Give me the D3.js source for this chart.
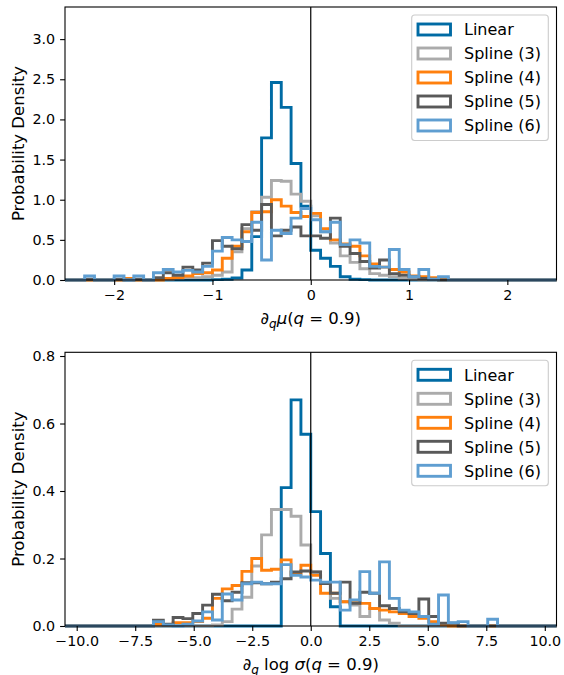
<!DOCTYPE html>
<html><head><meta charset="utf-8">
<script src="https://cdn.jsdelivr.net/npm/d3@7"></script>
<style>
body{margin:0;background:#fff}
svg{display:block}
text{font-family:"DejaVu Sans",sans-serif;fill:#000}
</style>
</head><body>
<svg id="chart" width="564" height="675"></svg>
<script>
// ---------------- data ----------------
const seriesNames = ["Linear", "Spline (3)", "Spline (4)", "Spline (5)", "Spline (6)"];
const seriesColors = ["#006BA4", "#ABABAB", "#FF800E", "#595959", "#5F9ED1"];

// Top panel: d_q mu(q=0.9); 50 bins spanning muRange
const muRange = [-2.5, 2.5];
const muLinear = [0,0,0,0,0, 0,0,0,0,0, 0,0,0,0,0, 0.005,0.01,0.025,0.125,0.54, 1.77,2.46,2.15,1.45,0.92, 0.37,0.27,0.17,0.04,0.01, 0.005,0,0,0,0, 0,0,0,0,0, 0,0,0,0,0, 0,0,0,0,0];
const muSpline3 = [0,0,0,0,0, 0,0,0,0,0, 0.01,0.02,0.03,0.03,0.04, 0.06,0.1,0.35,0.64,0.85, 1.03,1.24,1.23,1.07,0.98, 0.8,0.6,0.46,0.3,0.22, 0.14,0.08,0.06,0.04,0.02, 0.01,0,0,0,0, 0,0,0,0,0, 0,0,0,0,0];
const muSpline4 = [0,0,0,0,0, 0,0.02,0,0,0, 0.02,0.03,0.05,0.08,0.09, 0.125,0.27,0.42,0.6,0.84, 0.85,1.0,0.92,0.84,0.79, 0.83,0.64,0.5,0.45,0.42, 0.3,0.2,0.16,0.13,0.1, 0.05,0.04,0.03,0.02,0, 0,0,0,0,0, 0,0,0,0,0];
const muSpline5 = [0,0,0.01,0,0, 0.01,0,0.01,0,0.03, 0.09,0.06,0.16,0.125,0.21, 0.49,0.42,0.39,0.69,0.62, 0.94,0.55,0.62,0.66,0.55, 0.55,0.52,0.77,0.42,0.33, 0.23,0.15,0.25,0.08,0.06, 0.04,0.02,0.01,0,0, 0,0,0,0,0, 0,0,0,0,0];
const muSpline6 = [0,0,0.05,0,0, 0.05,0,0.05,0,0.09, 0.13,0.1,0.12,0.1,0.17, 0.36,0.53,0.5,0.48,0.72, 0.25,0.62,0.58,0.77,0.89, 0.75,0.6,0.72,0.44,0.5, 0.46,0.17,0.16,0.38,0.13, 0.04,0.13,0.01,0.04,0, 0,0,0,0,0, 0,0,0,0,0];
const muTicksX = [-2, -1, 0, 1, 2];
const muTicksY = [0, 0.5, 1.0, 1.5, 2.0, 2.5, 3.0];
const muYMax = 3.4;

// Bottom panel: d_q log sigma(q=0.9); 50 bins spanning sigRange
const sigRange = [-10.5, 10.5];
const sigLinear = [0,0,0,0,0, 0,0,0,0,0, 0,0,0,0,0, 0,0,0,0,0, 0,0,0.41,0.67,0.568, 0.339,0.215,0.057,0,0, 0,0,0,0,0, 0,0,0,0,0, 0,0,0,0,0, 0,0,0,0,0];
const sigSpline3 = [0,0,0,0,0, 0,0,0,0,0, 0,0,0,0,0, 0.003,0.013,0.05,0.085,0.178, 0.27,0.345,0.345,0.325,0.24, 0.16,0.126,0.082,0.072,0.062, 0.028,0.052,0.018,0.008,0, 0,0,0,0,0, 0,0,0,0,0, 0,0,0,0,0];
const sigSpline4 = [0,0,0,0,0, 0,0,0,0,0.005, 0.003,0.01,0.01,0.013,0.023, 0.082,0.11,0.12,0.162,0.2, 0.165,0.168,0.196,0.153,0.18, 0.15,0.097,0.097,0.072,0.07, 0.067,0.052,0.047,0.042,0.037, 0.028,0.023,0.013,0.005,0, 0,0,0,0,0, 0,0,0,0,0];
const sigSpline5 = [0,0,0,0,0, 0,0,0,0,0.017, 0.005,0.025,0.022,0.037,0.062, 0.094,0.075,0.1,0.128,0.128, 0.125,0.13,0.14,0.16,0.163, 0.16,0.126,0.097,0.13,0.067, 0.1,0.097,0.06,0.052,0.042, 0.037,0.08,0.028,0.008,0.008, 0,0,0,0,0, 0,0,0,0,0];
const sigSpline6 = [0,0,0,0,0, 0,0,0,0,0.013, 0.003,0,0.005,0.015,0.042, 0.018,0.095,0.077,0.125,0.13, 0.125,0.125,0.182,0.15,0.145, 0.136,0.13,0.13,0.047,0.077, 0.161,0.097,0.19,0.082,0.047, 0.042,0.028,0.005,0.092,0.01, 0.013,0,0,0.02,0, 0,0,0,0,0];
const sigTicksX = [-10, -7.5, -5, -2.5, 0, 2.5, 5, 7.5, 10];
const sigTicksY = [0, 0.2, 0.4, 0.6, 0.8];
const sigYMax = 0.811;

// ---------------- drawing ----------------
const svg = d3.select("#chart");
const FONT = 14.3, LABFONT = 16.5, LEGFONT = 16, TICK = 4.9, PAD = 4.9, LW = 2.9;

function drawPanel(cfg) {
  const x = d3.scaleLinear().domain(cfg.range).range([65, 556.5]);
  const y = d3.scaleLinear().domain([0, cfg.ymax]).range([cfg.bottom, cfg.top]);
  const g = svg.append("g");
  const n = cfg.series[0].length;
  const edges = d3.range(n + 1).map(i => cfg.range[0] + (cfg.range[1] - cfg.range[0]) * i / n);
  const line = d3.line().x(d => x(d[0])).y(d => y(d[1]));

  cfg.series.forEach((vals, si) => {
    const pts = [[edges[0], 0]];
    vals.forEach((v, i) => { pts.push([edges[i], v]); pts.push([edges[i + 1], v]); });
    pts.push([edges[n], 0]);
    g.append("path").attr("d", line(pts)).attr("fill", "none")
      .attr("stroke", seriesColors[si]).attr("stroke-width", LW)
      .attr("stroke-linejoin", "miter");
  });

  // vertical line at 0
  g.append("line").attr("x1", x(0)).attr("x2", x(0)).attr("y1", cfg.top).attr("y2", cfg.bottom)
    .attr("stroke", "#000").attr("stroke-width", 1.2);

  // axes
  const ax = g.append("g").attr("transform", `translate(0,${cfg.bottom})`)
    .call(d3.axisBottom(x).tickValues(cfg.ticksX).tickFormat(cfg.fmtX).tickSize(TICK).tickPadding(PAD).tickSizeOuter(0));
  const ay = g.append("g").attr("transform", `translate(65,0)`)
    .call(d3.axisLeft(y).tickValues(cfg.ticksY).tickFormat(d3.format(".1f")).tickSize(TICK).tickPadding(PAD).tickSizeOuter(0));
  [ax, ay].forEach(a => {
    a.select(".domain").remove();
    a.selectAll("text").attr("font-size", FONT).attr("font-family", '"DejaVu Sans",sans-serif').attr("fill", "#000");
    a.selectAll("line").attr("stroke", "#000").attr("stroke-width", 1.1);
  });

  // frame
  g.append("rect").attr("x", 65).attr("y", cfg.top).attr("width", 556.5 - 65).attr("height", cfg.bottom - cfg.top)
    .attr("fill", "none").attr("stroke", "#000").attr("stroke-width", 1.1);

  // y label
  g.append("text").attr("transform", `translate(24,${(cfg.top + cfg.bottom) / 2}) rotate(-90)`)
    .attr("text-anchor", "middle").attr("font-size", LABFONT).text("Probability Density");

  // x label (math)
  const xl = g.append("text").attr("x", (65 + 556.5) / 2).attr("y", cfg.bottom + 44)
    .attr("text-anchor", "middle").attr("font-size", LABFONT);
  cfg.xlabel(xl);

  // legend
  const lg = g.append("g");
  lg.append("rect").attr("x", 411.7).attr("y", cfg.top + 8).attr("width", 136.6).attr("height", 125.5)
    .attr("rx", 3).attr("fill", "#fff").attr("fill-opacity", 0.8).attr("stroke", "#cccccc").attr("stroke-width", 1.1);
  seriesNames.forEach((name, i) => {
    const cy = cfg.top + 22.5 + i * 24;
    lg.append("rect").attr("x", 418).attr("y", cy - 5.5).attr("width", 32.5).attr("height", 11)
      .attr("fill", "none").attr("stroke", seriesColors[i]).attr("stroke-width", LW);
    lg.append("text").attr("x", 464).attr("y", cy + 5.8).attr("font-size", LEGFONT).text(name);
  });
}

drawPanel({
  range: muRange, ymax: muYMax, top: 7, bottom: 280,
  series: [muLinear, muSpline3, muSpline4, muSpline5, muSpline6],
  ticksX: muTicksX, ticksY: muTicksY, fmtX: d3.format("d"),
  xlabel: t => {
    t.append("tspan").text("∂");
    t.append("tspan").attr("font-style", "italic").attr("font-size", 12).attr("dy", 3.5).text("q");
    t.append("tspan").attr("font-style", "italic").attr("dy", -3.5).text("μ");
    t.append("tspan").text("(");
    t.append("tspan").attr("font-style", "italic").text("q");
    t.append("tspan").text(" = 0.9)");
  }
});

drawPanel({
  range: sigRange, ymax: sigYMax, top: 352.3, bottom: 626,
  series: [sigLinear, sigSpline3, sigSpline4, sigSpline5, sigSpline6],
  ticksX: sigTicksX, ticksY: sigTicksY, fmtX: d3.format(".1f"),
  xlabel: t => {
    t.append("tspan").text("∂");
    t.append("tspan").attr("font-style", "italic").attr("font-size", 12).attr("dy", 3.5).text("q");
    t.append("tspan").attr("dy", -3.5).text(" log ");
    t.append("tspan").attr("font-style", "italic").text("σ");
    t.append("tspan").text("(");
    t.append("tspan").attr("font-style", "italic").text("q");
    t.append("tspan").text(" = 0.9)");
  }
});
</script>
</body></html>
